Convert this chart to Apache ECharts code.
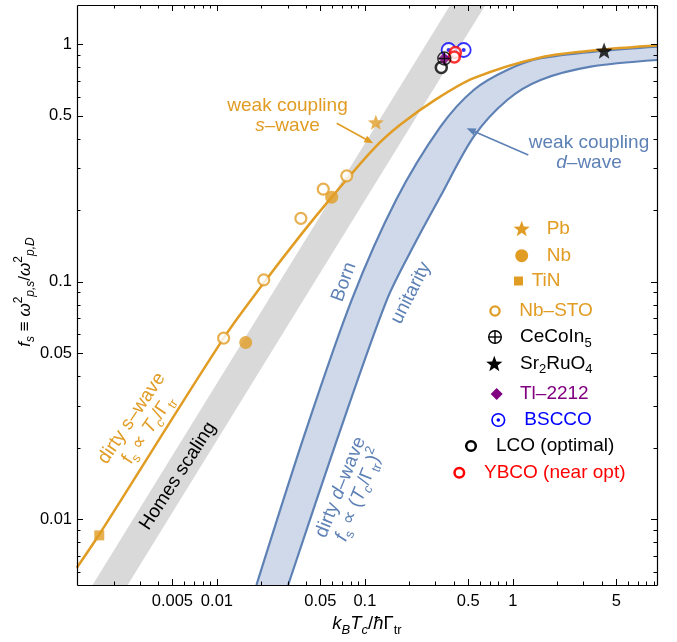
<!DOCTYPE html>
<html><head><meta charset="utf-8">
<script src="https://cdn.jsdelivr.net/npm/echarts@6/dist/echarts.min.js"></script>
<style>html,body{margin:0;padding:0;background:#fff}#c{width:677px;height:642px}</style>
</head><body><div id="c"></div>
<script>
// ---------------- data ----------------
const X_MIN = 0.001133, X_MAX = 9.43, Y_MIN = 0.00527, Y_MAX = 1.464;

const xMajorTicks = [0.005, 0.01, 0.05, 0.1, 0.5, 1, 5];
const xTickLabels = ['0.005', '0.01', '0.05', '0.1', '0.5', '1', '5'];
const xMinorTicks = [0.002, 0.003, 0.004, 0.006, 0.007, 0.008, 0.009, 0.02, 0.03, 0.04, 0.06, 0.07, 0.08, 0.09,
                     0.2, 0.3, 0.4, 0.6, 0.7, 0.8, 0.9, 2, 3, 4, 6, 7, 8, 9];
const yMajorTicks = [0.01, 0.05, 0.1, 0.5, 1];
const yTickLabels = ['0.01', '0.05', '0.1', '0.5', '1'];
const yMinorTicks = [0.006, 0.007, 0.008, 0.009, 0.02, 0.03, 0.04, 0.06, 0.07, 0.08, 0.09,
                     0.2, 0.3, 0.4, 0.6, 0.7, 0.8, 0.9];

// weak-coupling s-wave curve
const sWaveX = [0.00113, 0.0016, 0.0111, 0.0207, 0.0369, 0.0597, 0.1142, 0.1732, 0.3073, 0.544, 1.541, 4.14, 9.43];
const sWaveY = [0.00623, 0.0086, 0.0578, 0.0986, 0.1574, 0.2269, 0.362, 0.458, 0.590, 0.720, 0.880, 0.951, 0.988];
// weak-coupling d-wave, Born limit
const bornX = [0.0185, 0.0393, 0.0815, 0.1628, 0.3235, 0.544, 0.916, 1.541, 4.14, 9.43];
const bornY = [0.00527, 0.0229, 0.0838, 0.2211, 0.4485, 0.642, 0.779, 0.873, 0.940, 0.978];
// weak-coupling d-wave, unitarity limit
const unitX = [0.0303, 0.0648, 0.1408, 0.2189, 0.3235, 0.544, 0.916, 1.541, 3.364, 9.43];
const unitY = [0.00527, 0.02158, 0.0838, 0.1457, 0.2282, 0.4083, 0.5826, 0.7073, 0.8048, 0.8587];
// Homes scaling band edges
const homesUpperX = [0.001443, 0.378];
const homesLowerX = [0.002492, 0.6529];
const homesY = [0.00527, 1.464];

// materials
const pbX = [0.1186], pbY = [0.4694];
const nbX = [0.05965, 0.01565], nbY = [0.2269, 0.0554];
const tinX = [0.001602], tinY = [0.00853];
const nbstoX = [0.0111, 0.02073, 0.03693, 0.05233, 0.07539];
const nbstoY = [0.05781, 0.1018, 0.1847, 0.2452, 0.2790];
const cecoX = [0.3442], cecoY = [0.8713];
const sroX = [4.14], sroY = [0.9399];
const tlX = [0.3442], tlY = [0.8713];
const bsccoX = [0.3682, 0.4655], bsccoY = [0.9462, 0.9462];
const lcoX = [0.3285], lcoY = [0.7988];
const ybcoX = [0.4088, 0.4024], ybcoY = [0.9237, 0.8841];

// ---------------- rendering ----------------
const FONT = '"Liberation Sans", Arial, Helvetica, sans-serif';
const ORANGE = '#E19C24', BLUE = '#5E81B5', BANDBLUE = '#CFD9E9', GREY = '#D9D9D9', PURPLE = '#800080';
const ZT = 60;
const zip = (xs, ys) => xs.map((x, i) => [x, ys[i]]);

function starPoints(cx, cy, R) {
  const pts = [];
  for (let k = 0; k < 10; k++) {
    const a = -Math.PI / 2 + k * Math.PI / 5;
    const r = k % 2 === 0 ? R : R * 0.42;
    pts.push([cx + r * Math.cos(a), cy + r * Math.sin(a)]);
  }
  return pts;
}
const STAR_PATH = 'path://' + starPoints(0, 0, 10).map((p, i) => (i ? 'L' : 'M') + p[0].toFixed(3) + ',' + p[1].toFixed(3)).join('') + 'Z';
const OPLUS_PATH = 'path://M-10,0A10,10,0,1,1,10,0A10,10,0,1,1,-10,0ZM0,-10L0,10M-10,0L10,0';

function richStyles(size, color) {
  const base = { fontFamily: FONT, fontSize: size, fill: color, color: color, lineHeight: size + 7 };
  const s = Math.round(size * 0.68);
  const small = { fontFamily: FONT, fontSize: s, fill: color, color: color };
  return {
    n: Object.assign({}, base),
    i: Object.assign({}, base, { fontStyle: 'italic' }),
    sub: Object.assign({}, small, { verticalAlign: 'bottom' }),
    subi: Object.assign({}, small, { verticalAlign: 'bottom', fontStyle: 'italic' }),
    sup: Object.assign({}, small, { verticalAlign: 'top' }),
  };
}
function rtext(x, y, text, size, color, opts) {
  opts = opts || {};
  return {
    type: 'text', x: x, y: y, rotation: opts.rot || 0, z: ZT,
    style: { text: text, rich: richStyles(size, color), fill: color, font: size + 'px ' + FONT,
             align: opts.align || 'center', verticalAlign: 'middle' }
  };
}
function rotatedBlock(cx, cy, deg, lines, size, color, spacing) {
  const n = lines.length;
  return {
    type: 'group', x: cx, y: cy, rotation: deg * Math.PI / 180, z: ZT,
    children: lines.map((t, k) => ({
      type: 'text', x: 0, y: (k - (n - 1) / 2) * spacing, z: ZT,
      style: { text: t, rich: richStyles(size, color), fill: color, font: size + 'px ' + FONT,
               align: 'center', verticalAlign: 'middle' }
    }))
  };
}
function arrow(x1, y1, x2, y2, color) {
  const dx = x2 - x1, dy = y2 - y1, L = Math.hypot(dx, dy), ux = dx / L, uy = dy / L;
  const hl = 9, hw = 3.6;
  const bx = x2 - ux * hl, by = y2 - uy * hl;
  return [
    { type: 'line', z: ZT, shape: { x1: x1, y1: y1, x2: bx + ux * 2, y2: by + uy * 2 }, style: { stroke: color, lineWidth: 1.6 } },
    { type: 'polygon', z: ZT, shape: { points: [[x2, y2], [bx - uy * hw, by + ux * hw], [bx + uy * hw, by - ux * hw]] }, style: { fill: color } }
  ];
}

// legend markers
function legStar(x, y, R, color) { return { type: 'polygon', z: ZT, shape: { points: starPoints(x, y + 1, R) }, style: { fill: color } }; }
function legDisc(x, y, r, color) { return { type: 'circle', z: ZT, shape: { cx: x, cy: y, r: r }, style: { fill: color } }; }
function legRing(x, y, r, color, w) { return { type: 'circle', z: ZT, shape: { cx: x, cy: y, r: r }, style: { fill: '#fff', stroke: color, lineWidth: w } }; }

const legend = [];
function legendItem(marker, tx, y, text, color) {
  legend.push(...[].concat(marker));
  legend.push(rtext(tx, y, text, 19, color, { align: 'left' }));
}
legendItem(legStar(521.7, 228.3, 8.5, ORANGE), 546.7, 228.3, '{n|Pb}', ORANGE);
legendItem(legDisc(521.7, 255.7, 6.5, ORANGE), 546.7, 255.7, '{n|Nb}', ORANGE);
legendItem({ type: 'rect', z: ZT, shape: { x: 514, y: 276.5, width: 9, height: 9 }, style: { fill: ORANGE } }, 531.7, 281, '{n|TiN}', ORANGE);
legendItem(legRing(495, 311, 4.6, ORANGE, 2.3), 519.3, 311, '{n|Nb–STO}', ORANGE);
legendItem([
  { type: 'circle', z: ZT, shape: { cx: 495, cy: 337, r: 6.3 }, style: { fill: 'none', stroke: '#000', lineWidth: 1.4 } },
  { type: 'line', z: ZT, shape: { x1: 488.7, y1: 337, x2: 501.3, y2: 337 }, style: { stroke: '#000', lineWidth: 1.4 } },
  { type: 'line', z: ZT, shape: { x1: 495, y1: 330.7, x2: 495, y2: 343.3 }, style: { stroke: '#000', lineWidth: 1.4 } }
], 520, 337, '{n|CeCoIn}{sub|5}', '#000');
legendItem(legStar(494.3, 363.3, 8.5, '#000'), 520, 363.3, '{n|Sr}{sub|2}{n|RuO}{sub|4}', '#000');
legendItem({ type: 'polygon', z: ZT, shape: { points: [[496.7, 388], [502.7, 394], [496.7, 400], [490.7, 394]] }, style: { fill: PURPLE } }, 520, 394, '{n|Tl–2212}', PURPLE);
legendItem([
  { type: 'circle', z: ZT, shape: { cx: 498.3, cy: 420, r: 6.3 }, style: { fill: 'none', stroke: '#0000FF', lineWidth: 1.6 } },
  legDisc(498.3, 420, 1.8, '#0000FF')
], 524.3, 420, '{n|BSCCO}', '#0000FF');
legendItem(legRing(471, 446, 4.8, '#000', 2.5), 496, 446, '{n|LCO (optimal)}', '#000');
legendItem(legRing(459.3, 472.7, 4.8, '#FF0000', 2.5), 484, 472.7, '{n|YBCO (near opt)}', '#FF0000');

const annotations = [
  rotatedBlock(287.5, 116, 0, ['{n|weak coupling}', '{i|s}{n|–wave}'], 19, ORANGE, 20),
  rotatedBlock(589, 153, 0, ['{n|weak coupling}', '{i|d}{n|–wave}'], 19, BLUE, 20),
  rotatedBlock(344, 282, 70, ['{n|Born}'], 19, BLUE, 20),
  rotatedBlock(411, 293, 63, ['{n|unitarity}'], 19, BLUE, 20),
  rotatedBlock(140, 424, 56, ['{n|dirty s–wave}', '{n|f}{sub|s}{n| ∝ }{i|T}{subi|c}{n|/Γ}{sub|tr}'], 19, ORANGE, 20),
  rotatedBlock(178, 476, 57, ['{n|Homes scaling}'], 19, '#000', 20),
  rotatedBlock(350, 491, 68, ['{n|dirty }{i|d}{n|–wave}', '{i|f}{sub|s}{n| ∝ (}{i|T}{subi|c}{n|/Γ}{sub|tr}{n|)}{sup|2}'], 19, BLUE, 20),
  rtext(367, 624, '{i|k}{subi|B}{i|T}{subi|c}{n|/}{i|ħ}{n|Γ}{sub|tr}', 18.5, '#000'),
  rtext(25, 292, '{i|f}{subi|s}{n| ≡ }{i|ω}{sup|2}{subi|p,s}{n|/}{i|ω}{sup|2}{subi|p,D}', 17, '#000', { rot: Math.PI / 2 }),
  ...arrow(336.7, 123.3, 373.3, 143.3, ORANGE),
  ...arrow(528.3, 155, 466.7, 128.3, BLUE),
];

const chart = echarts.init(document.getElementById('c'), null, { renderer: 'canvas' });
const hidden = { axisLine: { show: false }, axisTick: { show: false }, axisLabel: { show: false }, splitLine: { show: false } };

function scatter(name, xs, ys, symbol, size, itemStyle, z) {
  return { name: name, type: 'scatter', data: zip(xs, ys), symbol: symbol, symbolSize: size, symbolKeepAspect: true,
           itemStyle: itemStyle, z: z || 6, silent: true, animation: false };
}

const TICK_FONT = '16.5px ' + FONT;
const option = {
  animation: false,
  backgroundColor: '#fff',
  grid: { left: 77, top: 5, width: 580, height: 580, containLabel: false, show: false },
  xAxis: Object.assign({ type: 'log', logBase: 10, min: X_MIN, max: X_MAX }, hidden),
  yAxis: Object.assign({ type: 'log', logBase: 10, min: Y_MIN, max: Y_MAX }, hidden),
  series: [
    { // Homes band
      type: 'custom', coordinateSystem: 'cartesian2d', data: [[1, 0.1]], z: 1, silent: true, clip: true,
      renderItem: function (params, api) {
        const pts = [api.coord([homesUpperX[0], homesY[0]]), api.coord([homesUpperX[1], homesY[1]]),
                     api.coord([homesLowerX[1], homesY[1]]), api.coord([homesLowerX[0], homesY[0]])];
        return { type: 'polygon', shape: { points: pts }, style: { fill: GREY } };
      }
    },
    { name: 'Born', type: 'line', data: zip(bornX, bornY), smooth: 0.3, symbol: 'none', z: 2, silent: true,
      lineStyle: { color: BLUE, width: 2.2 }, areaStyle: { color: BANDBLUE, opacity: 1, origin: 'start' } },
    { name: 'unitarity', type: 'line', data: zip(unitX, unitY), smooth: 0.3, symbol: 'none', z: 3, silent: true,
      lineStyle: { color: BLUE, width: 2.2 }, areaStyle: { color: '#ffffff', opacity: 1, origin: 'start' } },
    { name: 's-wave', type: 'line', data: zip(sWaveX, sWaveY), smooth: 0.3, symbol: 'none', z: 4, silent: true,
      lineStyle: { color: ORANGE, width: 2.5 } },
    scatter('Pb', pbX, pbY, STAR_PATH, 16, { color: ORANGE }),
    scatter('Nb', nbX, nbY, 'circle', 13, { color: ORANGE }),
    scatter('TiN', tinX, tinY, 'rect', 10, { color: ORANGE }),
    scatter('Nb-STO', nbstoX, nbstoY, 'circle', 11, { color: '#fff', borderColor: ORANGE, borderWidth: 2.2 }),
    scatter('Sr2RuO4', sroX, sroY, STAR_PATH, 17, { color: '#000' }),
    scatter('BSCCO', bsccoX, bsccoY, 'circle', 14, { color: '#fff', borderColor: '#0000FF', borderWidth: 1.8 }, 6),
    scatter('BSCCO dot', bsccoX, bsccoY, 'circle', 4, { color: '#0000FF' }, 6),
    scatter('YBCO', ybcoX, ybcoY, 'circle', 11, { color: '#fff', borderColor: '#FF0000', borderWidth: 2.5 }, 7),
    scatter('LCO', lcoX, lcoY, 'circle', 11, { color: '#fff', borderColor: '#000', borderWidth: 2.5 }, 7),
    scatter('Tl-2212', tlX, tlY, 'diamond', 12, { color: PURPLE }, 8),
    scatter('CeCoIn5', cecoX, cecoY, OPLUS_PATH, 13, { color: 'rgba(0,0,0,0)', borderColor: '#000', borderWidth: 1.4 }, 9),
    { // frame, ticks and tick labels
      type: 'custom', coordinateSystem: 'cartesian2d', data: [[1, 0.1]], z: 20, silent: true, clip: false,
      renderItem: function (params, api) {
        const ch = [];
        const seg = (x1, y1, x2, y2, w) => ch.push({ type: 'line', shape: { x1: x1, y1: y1, x2: x2, y2: y2 }, style: { stroke: '#000', lineWidth: w || 1 } });
        const bl = api.coord([X_MIN, Y_MIN]), tr = api.coord([X_MAX, Y_MAX]);
        const addX = (v, len) => {
          const x = Math.round(api.coord([v, Y_MIN])[0]) + 0.5;
          seg(x, bl[1], x, bl[1] - len); seg(x, tr[1], x, tr[1] + len);
        };
        const addY = (v, len) => {
          const y = Math.round(api.coord([X_MIN, v])[1]) + 0.5;
          seg(bl[0], y, bl[0] + len, y); seg(tr[0], y, tr[0] - len, y);
        };
        xMinorTicks.forEach(v => addX(v, 3.5));
        yMinorTicks.forEach(v => addY(v, 3.5));
        xMajorTicks.forEach((v, i) => {
          addX(v, 6);
          ch.push({ type: 'text', x: api.coord([v, Y_MIN])[0], y: bl[1] + 16,
                    style: { text: xTickLabels[i], font: TICK_FONT, fill: '#000', align: 'center', verticalAlign: 'middle' } });
        });
        yMajorTicks.forEach((v, i) => {
          addY(v, 6);
          ch.push({ type: 'text', x: bl[0] - 5, y: api.coord([X_MIN, v])[1],
                    style: { text: yTickLabels[i], font: TICK_FONT, fill: '#000', align: 'right', verticalAlign: 'middle' } });
        });
        const L = Math.round(bl[0]) + 0.5, R = Math.round(tr[0]) + 0.5, T = Math.round(tr[1]) + 0.5, B = Math.round(bl[1]) + 0.5;
        seg(L, T, R, T, 1.2); seg(L, B, R, B, 1.2); seg(L, T, L, B, 1.2); seg(R, T, R, B, 1.2);
        return { type: 'group', children: ch };
      }
    }
  ],
  graphic: { elements: annotations.concat(legend) }
};
chart.setOption(option);
</script>
</body></html>
